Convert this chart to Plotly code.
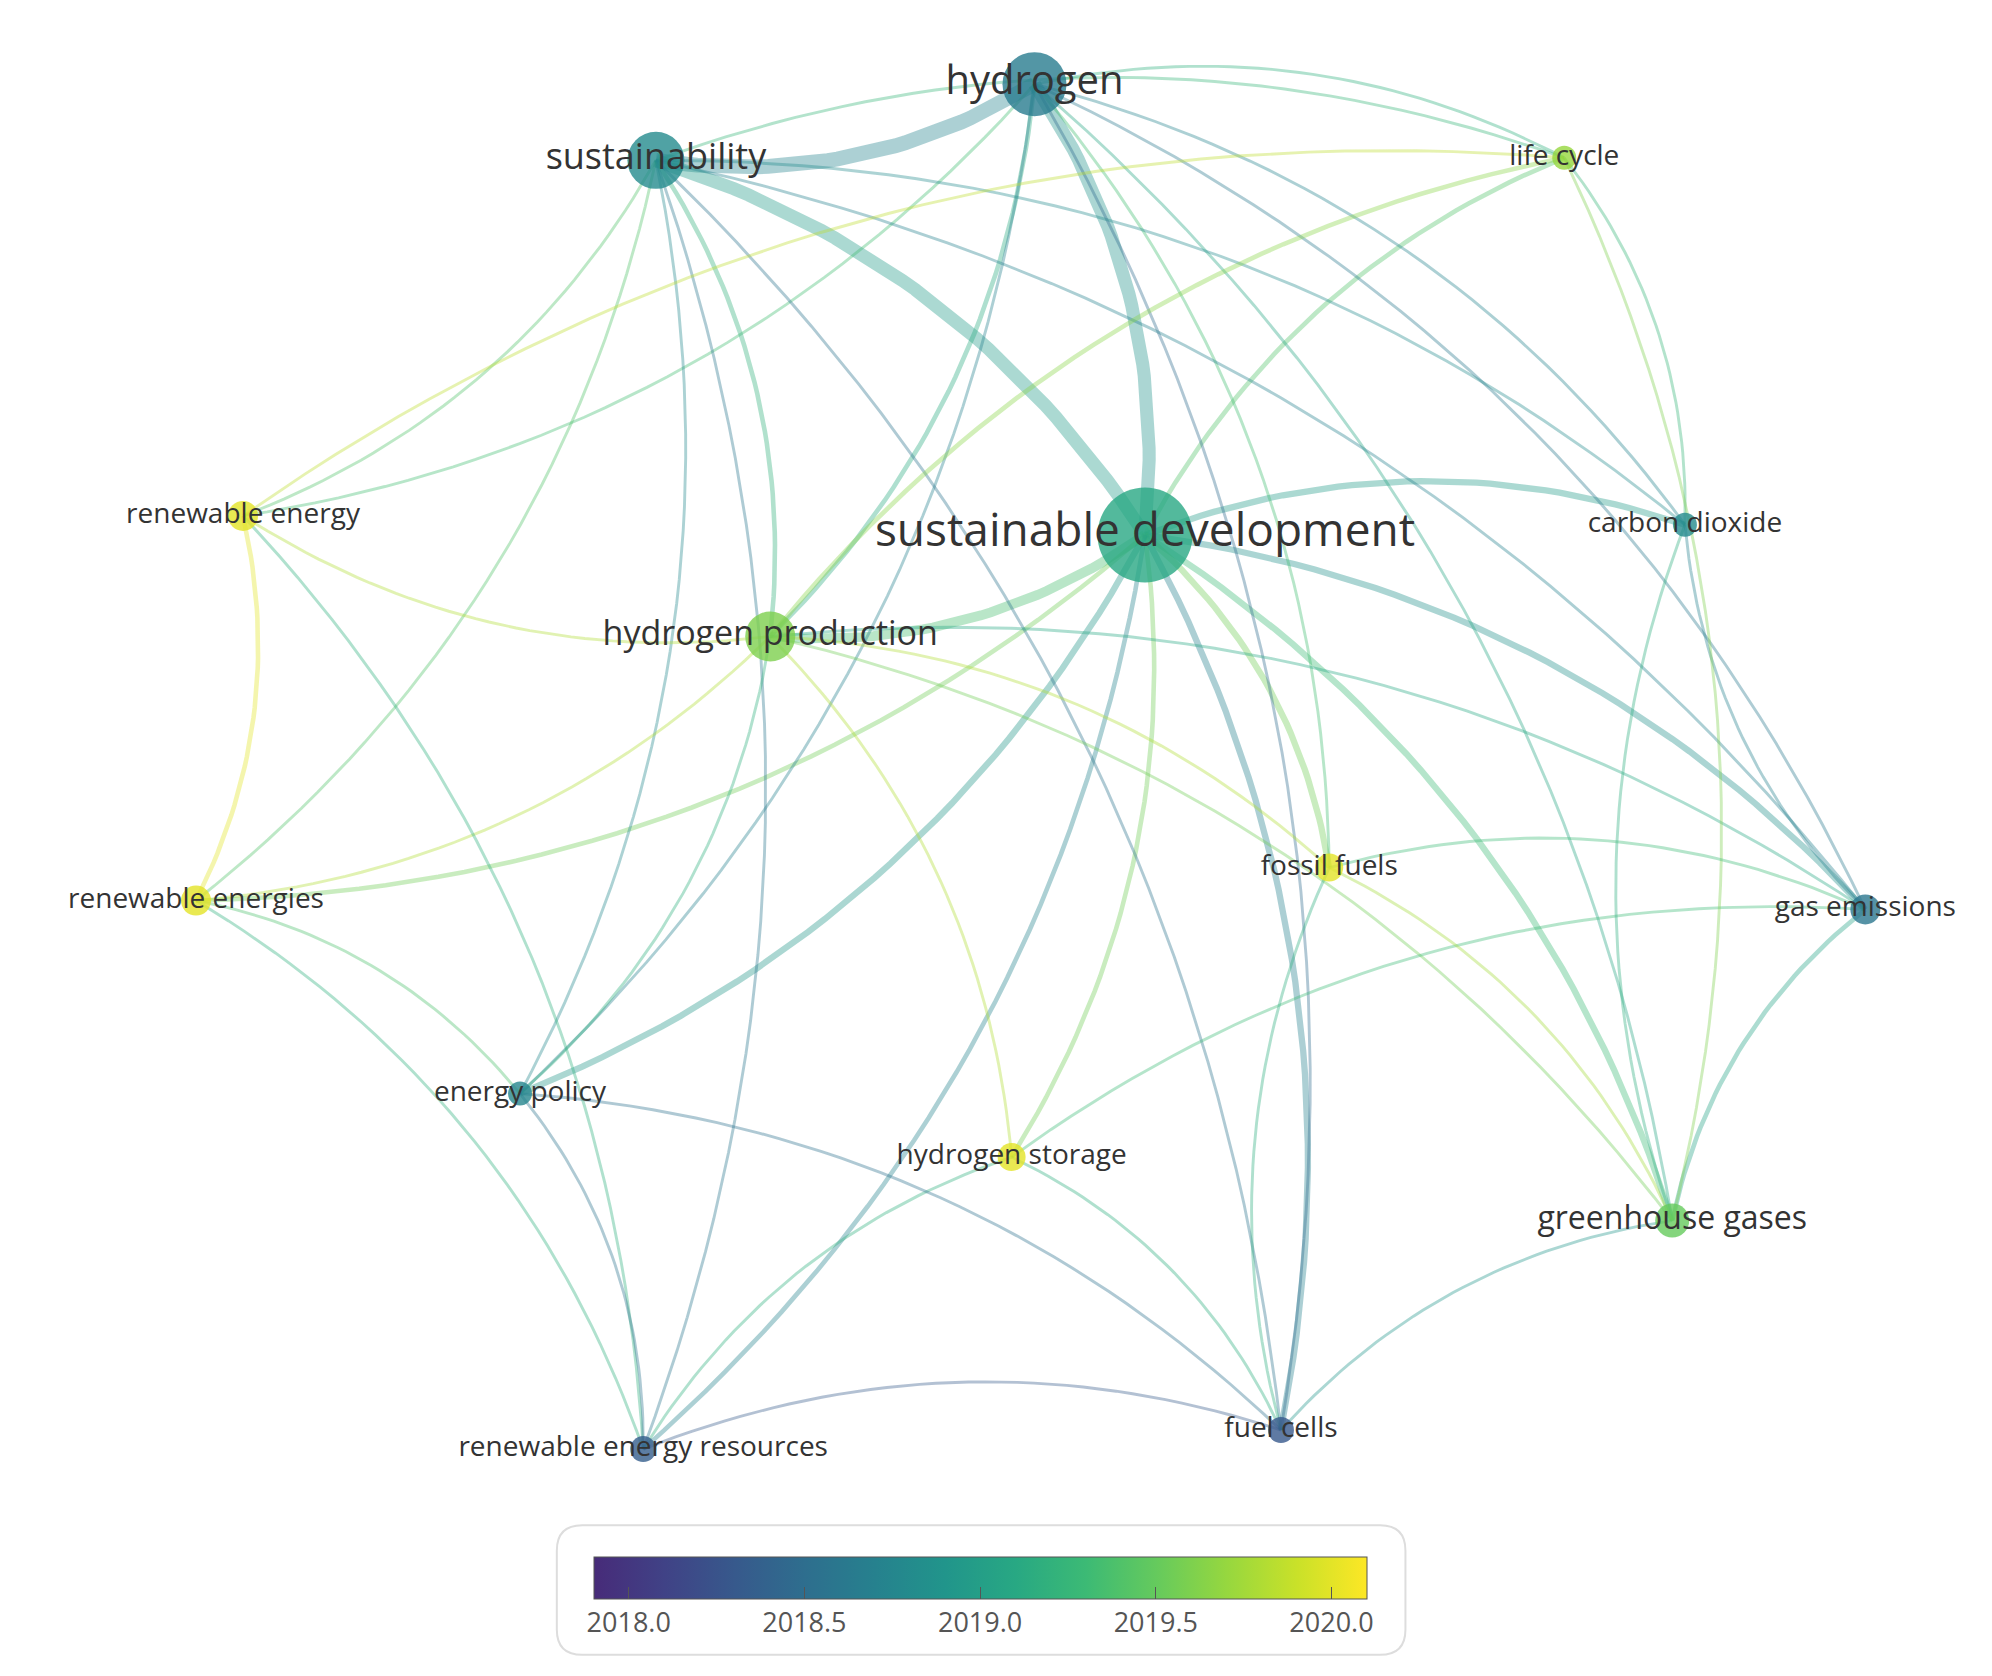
import numpy as np
import plotly.graph_objects as go
from plotly.colors import sample_colorscale

# ---- data ----
node_names = ["hydrogen", "sustainability", "sustainable development", "life cycle", "carbon dioxide",
              "renewable energy", "hydrogen production", "renewable energies", "fossil fuels",
              "gas emissions", "energy policy", "hydrogen storage", "greenhouse gases",
              "renewable energy resources", "fuel cells"]
node_x = [808, 510, 895, 1225, 1320, 185, 600, 148, 1040, 1462, 403, 790, 1310, 500, 1002]
node_y = [60, 120, 415, 118, 407, 400, 495, 703, 677, 710, 855, 905, 955, 1135, 1120]
node_year = [2018.65, 2018.8, 2019.1, 2019.7, 2018.8, 2020.0, 2019.6, 2020.0, 2020.0,
             2018.6, 2018.75, 2020.0, 2019.5, 2018.35, 2018.3]
node_weight = [64, 57, 95, 24, 24, 30, 50, 30, 28, 30, 24, 28, 34, 26, 26]
label_size = [40, 36, 46, 28, 28, 28, 34, 28, 28, 28, 28, 28, 32, 28, 28]

edge_src = [0, 0, 1, 2, 2, 2, 2, 2, 2, 2, 2, 2, 2, 2, 0, 0, 0, 0, 0, 0, 0, 0, 0,
            1, 1, 1, 1, 1, 1, 1, 1, 1, 6, 6, 6, 6, 6, 6, 6, 6, 5, 5, 7, 7, 5, 10,
            13, 13, 11, 11, 14, 14, 12, 12, 9, 3, 3, 8, 8, 10]
edge_dst = [1, 2, 2, 6, 4, 9, 12, 8, 14, 11, 10, 3, 7, 13, 6, 4, 9, 14, 8, 12, 3, 10, 5,
            10, 13, 7, 5, 6, 4, 3, 14, 9, 5, 7, 3, 8, 11, 12, 9, 10, 7, 3, 10, 13, 13, 13,
            14, 11, 14, 9, 12, 8, 9, 4, 4, 4, 12, 9, 12, 14]
edge_w = [8, 7, 7, 5, 3, 3, 3, 3, 3, 2, 3, 2, 2, 2, 2, 1, 1, 1, 1, 1, 1, 1, 1,
          1, 1, 1, 1, 2, 1, 1, 1, 1, 1, 1, 2, 1, 1, 1, 1, 1, 2, 1, 1, 1, 1, 1,
          1, 1, 1, 1, 1, 1, 2, 1, 1, 1, 1, 1, 1, 1]

cmin, cmax = 2017.9, 2020.1
tick_vals = [2018.0, 2018.5, 2019.0, 2019.5, 2020.0]
tick_text = ["2018.0", "2018.5", "2019.0", "2019.5", "2020.0"]

scale_pts = np.linspace(0.12, 1.0, 12)
cscale = [[i / 11, c] for i, c in enumerate(sample_colorscale("Viridis", list(scale_pts)))]

def col(y):
    return sample_colorscale(cscale, [min(max((y - cmin) / (cmax - cmin), 0), 1)])[0]

def rgba(c, a):
    c = c.replace("rgb(", "").replace(")", "")
    return f"rgba({c},{a})"

fig = go.Figure()
t = np.linspace(0, 1, 40)
for s, d, w in zip(edge_src, edge_dst, edge_w):
    x0, y0, x1, y1 = node_x[s], node_y[s], node_x[d], node_y[d]
    mx, my = (x0 + x1) / 2, (y0 + y1) / 2
    dx, dy = x1 - x0, y1 - y0
    cx, cy = mx + 0.18 * dy, my - 0.18 * dx
    bx = (1 - t) ** 2 * x0 + 2 * (1 - t) * t * cx + t ** 2 * x1
    by = (1 - t) ** 2 * y0 + 2 * (1 - t) * t * cy + t ** 2 * y1
    yr = (node_year[s] + node_year[d]) / 2
    fig.add_trace(go.Scatter(x=bx, y=by, mode="lines", hoverinfo="skip", showlegend=False,
                             line=dict(color=rgba(col(yr), 0.38), width=1.2 + 1.7 * w)))

fig.add_trace(go.Scatter(
    x=node_x, y=node_y, mode="markers+text", text=node_names, textposition="middle center",
    textfont=dict(size=label_size, color="#333333", family="Open Sans"), showlegend=False,
    marker=dict(size=node_weight, color=node_year, colorscale=cscale, cmin=cmin, cmax=cmax,
                opacity=0.8, line=dict(width=0),
                colorbar=dict(orientation="h", x=0.488, xanchor="center", y=1 - 1212 / 1320,
                              yanchor="top", len=624 / 1568, lenmode="fraction", thickness=42,
                              tickvals=tick_vals, ticktext=tick_text, ticks="inside", ticklen=12,
                              tickcolor="#555", outlinecolor="#555", outlinewidth=1,
                              tickfont=dict(size=27, color="#555", family="Open Sans")))))

fig.add_shape(type="path", xref="x", yref="y",
              path="M 452 1195 L 1080 1195 Q 1100 1195 1100 1215 L 1100 1277 Q 1100 1297 1080 1297 "
                   "L 452 1297 Q 432 1297 432 1277 L 432 1215 Q 432 1195 452 1195 Z",
              line=dict(color="#dddddd", width=2))

fig.update_layout(width=1992, height=1676, margin=dict(l=0, r=0, t=0, b=0),
                  plot_bgcolor="white", paper_bgcolor="white",
                  xaxis=dict(range=[0, 1568], visible=False),
                  yaxis=dict(range=[1320, 0], visible=False))
fig.write_html("out.html")
